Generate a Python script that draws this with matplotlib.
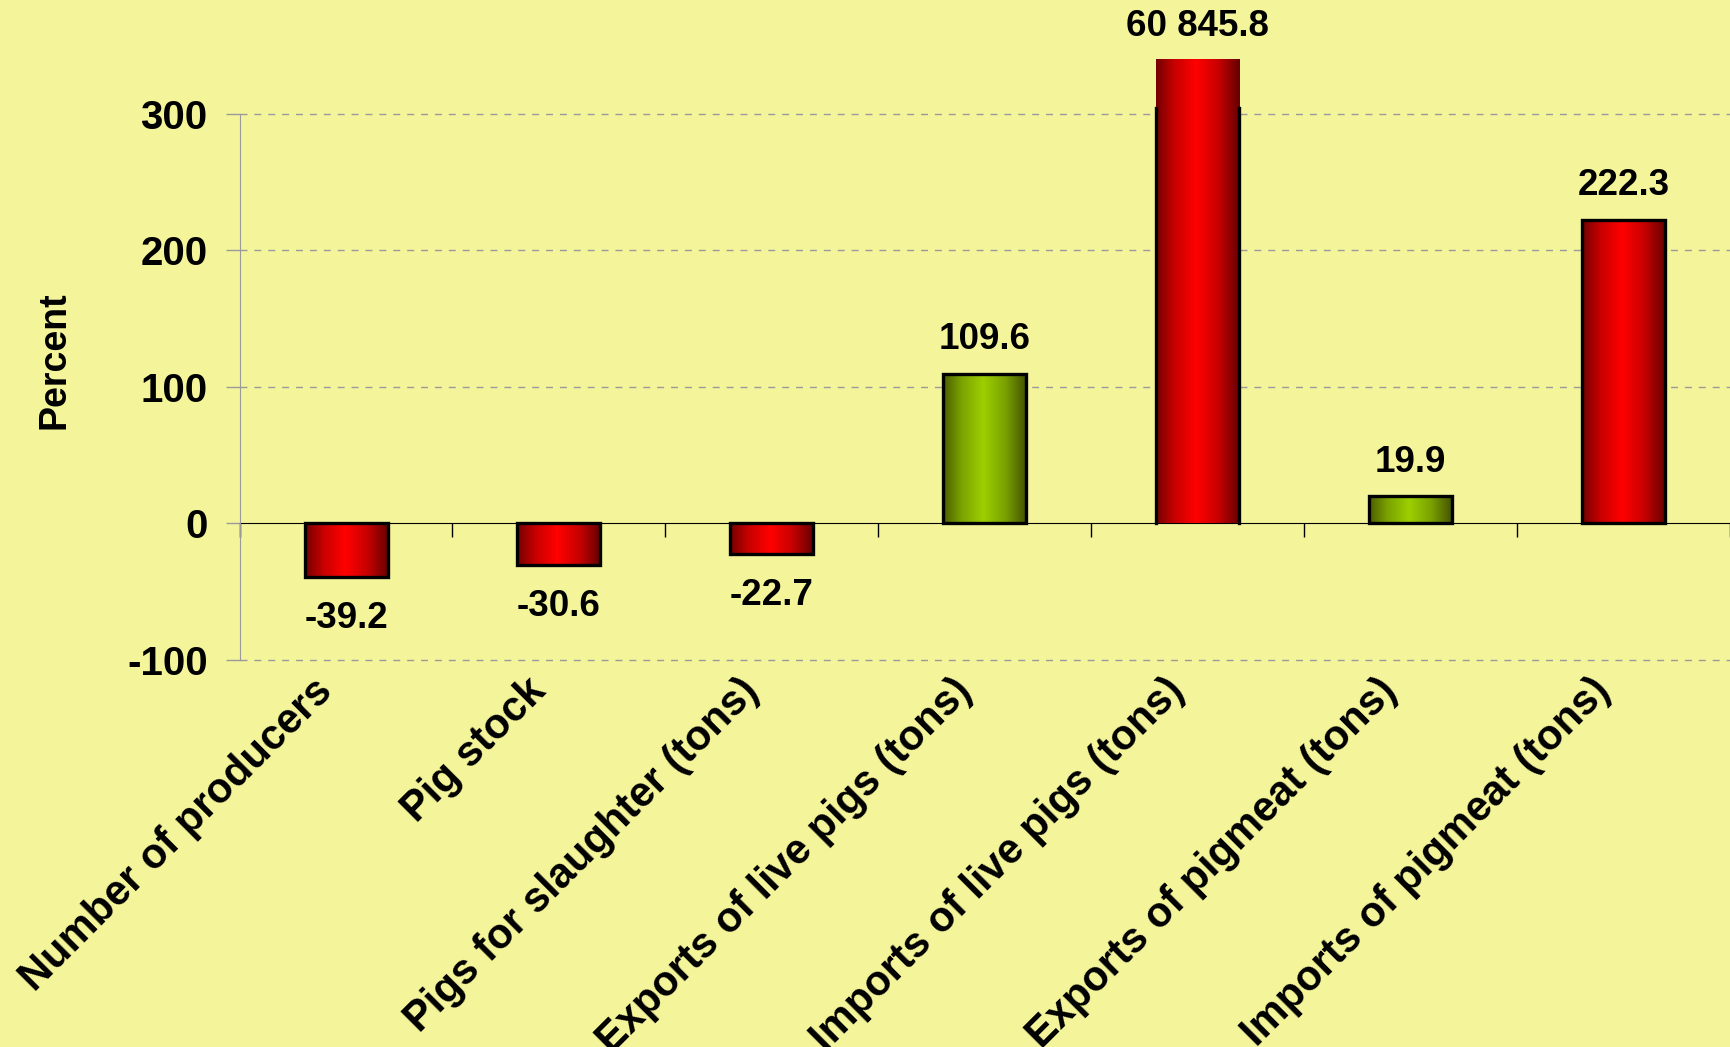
import numpy as np
import matplotlib
matplotlib.use("Agg")
import matplotlib.pyplot as plt
from matplotlib.colors import LinearSegmentedColormap

categories = ["Number of producers", "Pig stock", "Pigs for slaughter (tons)",
              "Exports of live pigs (tons)", "Imports of live pigs (tons)",
              "Exports of pigmeat (tons)", "Imports of pigmeat (tons)"]
values = [-39.2, -30.6, -22.7, 109.6, 60845.8, 19.9, 222.3]
value_labels = ["-39.2", "-30.6", "-22.7", "109.6", "60 845.8", "19.9", "222.3"]
bar_kind = ["red", "red", "red", "green", "red", "green", "red"]
y_ticks = [-100, 0, 100, 200, 300]

# the off-scale bar is cut and drawn only a bit above the axis top
shown_cap = 339
outline_cap = 304

plt.rcParams["font.family"] = ["Liberation Sans", "DejaVu Sans"]
plt.rcParams["font.weight"] = "bold"

bg = "#f4f49b"
cmaps = {
    "red": LinearSegmentedColormap.from_list("r", ["#640000", "#c80000", "#ff0000"]),
    "green": LinearSegmentedColormap.from_list("g", ["#435000", "#7aa200", "#9ccf00"]),
}

fig = plt.figure(figsize=(17.31, 10.47), dpi=100, facecolor=bg)
ax = fig.add_axes([0.1384, 0.3696, 0.861, 0.5218])
ax.set_facecolor("none")

xs = np.linspace(0, 1, 256)
profile = np.clip(1 - np.abs(xs - 0.48) / 0.52, 0, 1).reshape(1, -1)
w = 0.39

for i, (v, kind) in enumerate(zip(values, bar_kind)):
    h = min(v, shown_cap)
    x0, x1 = i - w / 2, i + w / 2
    ax.imshow(profile, cmap=cmaps[kind], extent=[x0, x1, min(0, h), max(0, h)],
              aspect="auto", zorder=3, clip_on=False, interpolation="bilinear")
    if v > shown_cap:
        ax.plot([x0, x0], [0, outline_cap], color="black", lw=2.4, zorder=4, clip_on=False)
        ax.plot([x1, x1], [0, outline_cap], color="black", lw=2.4, zorder=4, clip_on=False)
    else:
        ax.add_patch(plt.Rectangle((x0, 0), w, h, fill=False, ec="black", lw=2.4,
                                   zorder=4, clip_on=False))
    if v >= 0:
        ax.annotate(value_labels[i], xy=(i, h), xytext=(0, 12), textcoords="offset points",
                    ha="center", va="bottom", fontsize=26.5, fontweight="bold",
                    annotation_clip=False)
    else:
        ax.annotate(value_labels[i], xy=(i, h), xytext=(0, -17), textcoords="offset points",
                    ha="center", va="top", fontsize=26.5, fontweight="bold",
                    annotation_clip=False)

for i, c in enumerate(categories):
    ax.annotate(c, xy=(i, 0), xycoords=("data", "axes fraction"), xytext=(-14, -18),
                textcoords="offset points", rotation=45, ha="right", va="center",
                rotation_mode="anchor", fontsize=30, fontweight="bold",
                annotation_clip=False)

ax.set_xlim(-0.5, 6.5)
ax.set_ylim(-100, 300)
ax.set_yticks(y_ticks)
ax.set_yticklabels([str(t) for t in y_ticks], fontsize=29, fontweight="bold")
for t in y_ticks:
    if t != 0:
        ax.axhline(t, ls=(0, (5, 5)), color="#9a9a9a", lw=1, zorder=1, clip_on=False)
ax.tick_params(axis="y", length=10, width=1, color="#9a9a9a", pad=13)

ax.set_xticks(np.arange(-0.5, 7, 1))
ax.set_xticklabels([])
ax.tick_params(axis="x", length=10, width=1, color="black", direction="out")
ax.spines["bottom"].set_position(("data", 0))
ax.spines["bottom"].set_color("black")
ax.spines["bottom"].set_zorder(2)
ax.spines["left"].set_color("#9a9a9a")
ax.spines["top"].set_visible(False)
ax.spines["right"].set_visible(False)

fig.text(55 / 1731, 0.656, "Percent", rotation=90, ha="center", va="center",
         fontsize=27, fontweight="bold")

fig.savefig("out.png", dpi=100, facecolor=bg)
